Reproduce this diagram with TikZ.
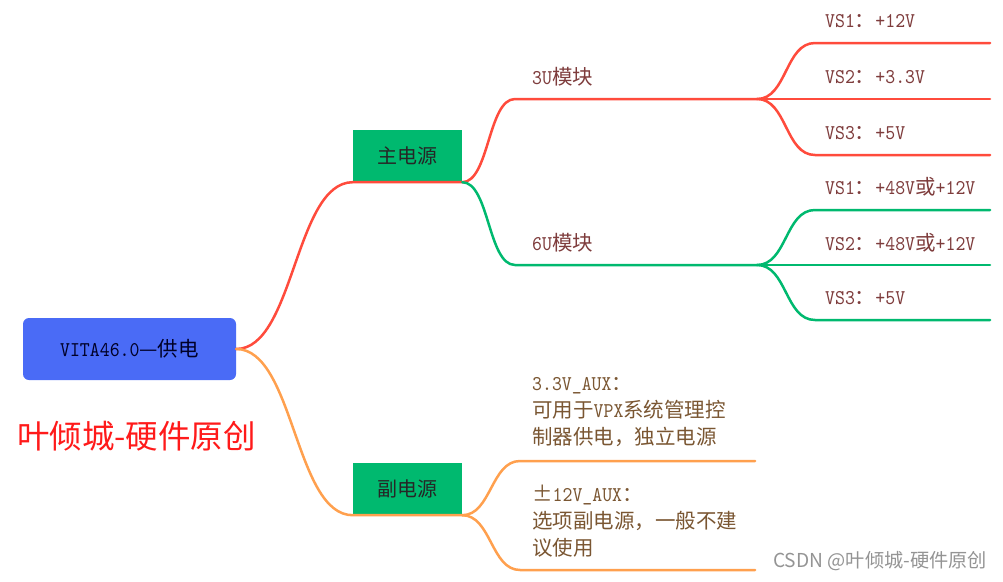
\documentclass[tikz,border=0pt]{standalone}
\usepackage{fontspec}
\setmonofont{lmmono10-regular.otf}[FakeStretch=0.9]
\newfontfamily\cjk{Noto Sans CJK SC}
\newcommand\zhs[1]{{\cjk\fontsize{20.5}{27}\selectfont #1}}
\definecolor{rootblue}{HTML}{4A6BF6}
\definecolor{boxgreen}{HTML}{00B96F}
\definecolor{lred}{HTML}{FF4B3C}
\definecolor{lgreen}{HTML}{00B96F}
\definecolor{lorange}{HTML}{FFA04E}
\definecolor{tred}{HTML}{7E3C3C}
\definecolor{tbrown}{HTML}{7A5632}
\definecolor{titlered}{HTML}{FF1A1A}
\tikzset{
  rootbox/.style={fill=rootblue,rounded corners=6pt,minimum width=213pt,minimum height=62pt,inner sep=0pt,
    font=\ttfamily\fontsize{21}{24}\selectfont,text=black!85!blue},
  greenbox/.style={fill=boxgreen,minimum width=109pt,minimum height=52pt,inner sep=0pt,
    font=\cjk\fontsize{20}{24}\selectfont,text=black!85},
  leaftext/.style={anchor=west,inner sep=0pt,font=\ttfamily\fontsize{21}{27}\selectfont,text=tred},
  auxtext/.style={anchor=west,inner sep=0pt,align=left,font=\ttfamily\fontsize{21}{27}\selectfont,text=tbrown},
  conn/.style={line width=2.5pt,line cap=round},
}
\begin{document}
\begin{tikzpicture}[x=1pt,y=-1pt]
\useasboundingbox (0,0) rectangle (1003,581);
% nodes
\node[rootbox] (root) at (129.5,349) {VITA46.0\zhs{—供电}};
\node[greenbox] (zhu) at (407.5,156) {主电源};
\node[greenbox] (fu) at (407.5,489) {副电源};
\node[anchor=west,inner sep=0pt,text=titlered,font=\cjk\fontsize{32.5}{36}\selectfont] (title) at (17,436) {叶倾城-硬件原创};
\node[anchor=west,inner sep=0pt,text=black!42,font=\cjk\fontsize{19.2}{22}\selectfont] (wm) at (773,561) {CSDN @叶倾城-硬件原创};
% level 2 text
\node[leaftext] (u3) at (532,77) {3U\zhs{模块}};
\node[leaftext] (u6) at (532,243) {6U\zhs{模块}};
\node[auxtext] (aux1) at (532,412) {3.3V\_AUX\zhs{：}\\\zhs{可用于}VPX\zhs{系统管理控}\\\zhs{制器供电，独立电源}};
\node[auxtext] (aux2) at (532,521) {\zhs{±}12V\_AUX\zhs{：}\\\zhs{选项副电源，一般不建}\\\zhs{议使用}};
% leaves
\node[leaftext] (a1) at (825,21) {VS1\zhs{：}+12V};
\node[leaftext] (a2) at (825,77) {VS2\zhs{：}+3.3V};
\node[leaftext] (a3) at (825,133) {VS3\zhs{：}+5V};
\node[leaftext] (b1) at (825,187) {VS1\zhs{：}+48V\zhs{或}+12V};
\node[leaftext] (b2) at (825,243) {VS2\zhs{：}+48V\zhs{或}+12V};
\node[leaftext] (b3) at (825,298) {VS3\zhs{：}+5V};
% coordinates of underlines
\coordinate (u3s) at (515,99); \coordinate (u3e) at (757,99);
\coordinate (u6s) at (515,265); \coordinate (u6e) at (757,265);
\coordinate (a1s) at (815,43); \coordinate (a1e) at (990,43);
\coordinate (a2s) at (815,99); \coordinate (a2e) at (990,99);
\coordinate (a3s) at (815,155); \coordinate (a3e) at (990,155);
\coordinate (b1s) at (815,210); \coordinate (b1e) at (990,210);
\coordinate (b2s) at (815,265); \coordinate (b2e) at (990,265);
\coordinate (b3s) at (815,320); \coordinate (b3e) at (990,320);
\coordinate (x1s) at (520,461); \coordinate (x1e) at (755,461);
\coordinate (x2s) at (520,570); \coordinate (x2e) at (755,570);
% connectors
\draw[conn,lred] (root.east) .. controls +(58,0) and +(-58,0) .. (zhu.south west) -- (zhu.south east);
\draw[conn,lorange] (root.east) .. controls +(58,0) and +(-58,0) .. (fu.south west) -- (fu.south east);
\draw[conn,lred] (zhu.south east) .. controls +(27,0) and +(-27,0) .. (u3s) -- (u3e);
\draw[conn,lgreen] (zhu.south east) .. controls +(27,0) and +(-27,0) .. (u6s) -- (u6e);
\draw[conn,lred] (u3e) .. controls +(30,0) and +(-30,0) .. (a1s) -- (a1e);
\draw[conn,lred] (u3e) -- (a2s) -- (a2e);
\draw[conn,lred] (u3e) .. controls +(30,0) and +(-30,0) .. (a3s) -- (a3e);
\draw[conn,lgreen] (u6e) .. controls +(30,0) and +(-30,0) .. (b1s) -- (b1e);
\draw[conn,lgreen] (u6e) -- (b2s) -- (b2e);
\draw[conn,lgreen] (u6e) .. controls +(30,0) and +(-30,0) .. (b3s) -- (b3e);
\draw[conn,lorange] (fu.south east) .. controls +(29,0) and +(-29,0) .. (x1s) -- (x1e);
\draw[conn,lorange] (fu.south east) .. controls +(29,0) and +(-29,0) .. (x2s) -- (x2e);
\end{tikzpicture}
\end{document}
